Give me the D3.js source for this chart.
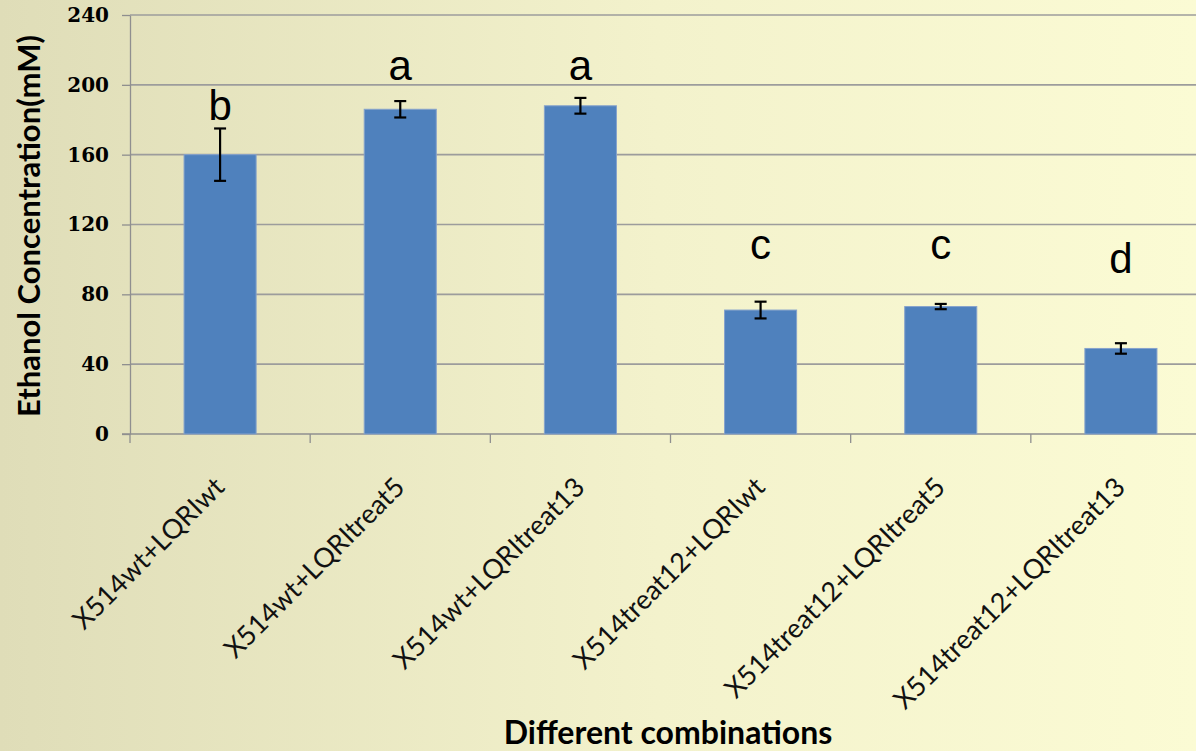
<!DOCTYPE html>
<html>
<head>
<meta charset="utf-8">
<script src="https://cdn.jsdelivr.net/npm/d3@7"></script>
<style>
  html, body { margin: 0; padding: 0; overflow: hidden; }
  svg { display: block; }
</style>
</head>
<body>
<svg id="chart" width="1196" height="751"></svg>
<script>
// Ethanol concentration per strain combination (mM), with error bars
const categories = [
  "X514wt+LQRIwt",
  "X514wt+LQRItreat5",
  "X514wt+LQRItreat13",
  "X514treat12+LQRIwt",
  "X514treat12+LQRItreat5",
  "X514treat12+LQRItreat13"
];
const means = [160, 186, 188, 71, 73, 49];
const errors = [15, 4.7, 4.5, 4.8, 1.5, 3];
// significance groups and the level (mM) where each letter sits
const groupLetters = ["b", "a", "a", "c", "c", "d"];
const letterLevels = [180, 203, 203, 100, 100, 92];
const yTicks = [0, 40, 80, 120, 160, 200, 240];

const W = 1196, H = 751;
const margin = { left: 130, top: 15, bottom: 434, right: 1211 };

const svg = d3.select("#chart");

// background wash
const defs = svg.append("defs");
const grad = defs.append("linearGradient").attr("id", "bg")
  .attr("x1", "0%").attr("x2", "100%").attr("y1", "0%").attr("y2", "0%");
grad.append("stop").attr("offset", "0%").attr("stop-color", "#dfddb8");
grad.append("stop").attr("offset", "55%").attr("stop-color", "#f3f2cc");
grad.append("stop").attr("offset", "100%").attr("stop-color", "#fbfbd4");
svg.append("rect").attr("width", W).attr("height", H).attr("fill", "url(#bg)");

const x = d3.scaleBand().domain(categories)
  .range([margin.left, margin.right]).paddingInner(0.6).paddingOuter(0.3);
const y = d3.scaleLinear().domain([0, 240]).range([margin.bottom, margin.top]);

// horizontal gridlines
svg.append("g").selectAll("line").data(yTicks.filter(d => d > 0)).join("line")
  .attr("x1", margin.left).attr("x2", W)
  .attr("y1", d => y(d)).attr("y2", d => y(d))
  .attr("stroke", "#9c9c9c").attr("stroke-width", 1.6);

// y axis
const yAxis = svg.append("g").attr("transform", `translate(${margin.left},0)`)
  .call(d3.axisLeft(y).tickValues(yTicks).tickSize(8).tickSizeOuter(0).tickPadding(13));
yAxis.select(".domain").attr("stroke", "#8f8f8f").attr("stroke-width", 1.3);
yAxis.selectAll(".tick line").attr("stroke", "#8f8f8f").attr("stroke-width", 1.3);
yAxis.selectAll(".tick text")
  .attr("font-family", "'DejaVu Serif', serif").attr("font-weight", "bold")
  .attr("font-size", 20).attr("fill", "#000");

// x axis baseline and category separators
const band = x.step();
const xAxisG = svg.append("g");
xAxisG.append("line")
  .attr("x1", margin.left - 8).attr("x2", W)
  .attr("y1", y(0)).attr("y2", y(0))
  .attr("stroke", "#8f8f8f").attr("stroke-width", 1.3);
xAxisG.selectAll("line.sep").data(d3.range(categories.length + 1)).join("line")
  .attr("class", "sep")
  .attr("x1", i => margin.left + i * band).attr("x2", i => margin.left + i * band)
  .attr("y1", y(0)).attr("y2", y(0) + 9)
  .attr("stroke", "#8f8f8f").attr("stroke-width", 1.3);

// bars
svg.append("g").selectAll("rect").data(categories).join("rect")
  .attr("x", d => x(d)).attr("width", x.bandwidth())
  .attr("y", (d, i) => y(means[i]))
  .attr("height", (d, i) => y(0) - y(means[i]))
  .attr("fill", "#4f81bd").attr("stroke", "#86a3cc").attr("stroke-width", 1);

// error bars
const eb = svg.append("g").attr("stroke", "#000").attr("stroke-width", 2.2);
categories.forEach((c, i) => {
  const cx = x(c) + x.bandwidth() / 2;
  const top = y(means[i] + errors[i]), bot = y(means[i] - errors[i]);
  eb.append("line").attr("x1", cx).attr("x2", cx).attr("y1", top).attr("y2", bot);
  eb.append("line").attr("x1", cx - 6).attr("x2", cx + 6).attr("y1", top).attr("y2", top);
  eb.append("line").attr("x1", cx - 6).attr("x2", cx + 6).attr("y1", bot).attr("y2", bot);
});

// significance letters
svg.append("g").selectAll("text").data(categories).join("text")
  .attr("x", d => x(d) + x.bandwidth() / 2)
  .attr("y", (d, i) => y(letterLevels[i]))
  .attr("text-anchor", "middle")
  .attr("font-family", "'Liberation Sans', Arial, sans-serif")
  .attr("font-size", 42).attr("fill", "#000")
  .text((d, i) => groupLetters[i]);

// rotated category labels
svg.append("g").selectAll("text").data(categories).join("text")
  .attr("transform", d => `translate(${x(d) + x.bandwidth() / 2 + 6},${y(0) + 55}) rotate(-45)`)
  .attr("text-anchor", "end")
  .attr("font-family", "Lato, 'Open Sans', sans-serif")
  .attr("font-size", 27).attr("fill", "#111")
  .text(d => d);

// axis titles
svg.append("text")
  .attr("transform", `translate(40,226) rotate(-90)`)
  .attr("text-anchor", "middle")
  .attr("font-family", "Lato, 'Open Sans', sans-serif").attr("font-weight", "bold")
  .attr("font-size", 31).attr("fill", "#000")
  .text("Ethanol Concentration(mM)");

svg.append("text")
  .attr("x", 668).attr("y", 744)
  .attr("text-anchor", "middle")
  .attr("font-family", "Lato, 'Open Sans', sans-serif").attr("font-weight", "bold")
  .attr("font-size", 32).attr("fill", "#000")
  .text("Different combinations");
</script>
</body>
</html>
